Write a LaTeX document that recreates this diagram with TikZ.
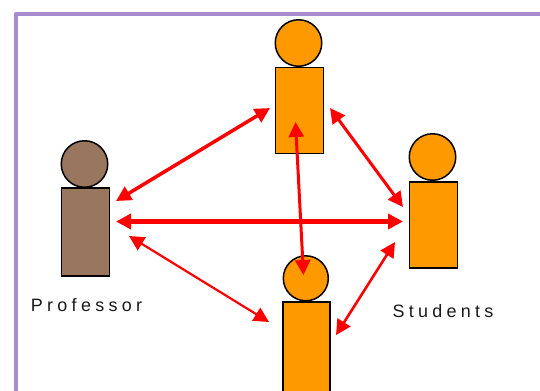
\documentclass[tikz,border=0pt]{standalone}
\usepackage{fontspec}
\setmainfont{Liberation Sans}[LetterSpace=24]
\usetikzlibrary{arrows.meta}
\definecolor{frameline}{HTML}{A98CCF}
\definecolor{studentfill}{HTML}{FF9900}
\definecolor{proffill}{HTML}{99775F}
\tikzset{
    body/.style={draw=black, line width=1.5bp, minimum width=48bp, inner sep=0pt},
    head/.style={draw=black, line width=1.5bp, circle, minimum size=46.5bp, inner sep=0pt},
    link/.style={red, {Triangle[length=15bp,width=15bp]}-{Triangle[length=15bp,width=15bp]}},
    caption/.style={font=\fontsize{18}{20}\selectfont, text=black!90}
}
\begin{document}
\begin{tikzpicture}[x=1bp, y=-1bp]
            \useasboundingbox (0,0) rectangle (540,390);

            % frame, open to the right and below
            \coordinate (f1) at (15.5,395);
            \coordinate (f2) at (15.5,14);
            \coordinate (f3) at (545,14);
            \draw[frameline, line width=4bp, line join=round] (f1) -- (f2) -- (f3);

            % professor and the three students
            \node[body, fill=proffill, minimum height=88bp] (profbody) at (85.5,232) {};
            \node[head, fill=proffill] (profhead) at (84.5,164) {};
            \node[body, fill=studentfill, minimum height=86bp] (topbody) at (299.3,110.5) {};
            \node[head, fill=studentfill] (tophead) at (298.5,43) {};
            \node[body, fill=studentfill, minimum height=86bp] (rightbody) at (433.5,225) {};
            \node[head, fill=studentfill] (righthead) at (432.5,157) {};
            \node[body, fill=studentfill, minimum width=47bp, minimum height=92bp] (lowbody) at (306.3,348) {};
            \node[head, fill=studentfill, minimum size=45bp] (lowhead) at (305.8,278.3) {};

            % labels
            \node[caption] (proflabel) at (86.5,305.5) {Professor};
            \node[caption] (studlabel) at (443,311.5) {Students};

            % free ends of the arrows
            \coordinate (p1) at (116,201);
            \coordinate (p2) at (116,221.5);
            \coordinate (p3) at (129,236);
            \coordinate (t1) at (270,108);
            \coordinate (t2) at (295.5,122);
            \coordinate (t3) at (330,108);
            \coordinate (r1) at (403,207);
            \coordinate (r2) at (403,221.5);
            \coordinate (r3) at (395,242);
            \coordinate (l1) at (269,322);
            \coordinate (l2) at (303.5,275);
            \coordinate (l3) at (336,335);

            % arrows
            \draw[link, line width=3.5bp] (p1) -- (t1);
            \draw[link, line width=5bp] (p2) -- (r2);
            \draw[link, line width=2.2bp] (p3) -- (l1);
            \draw[link, line width=3bp] (t2) -- (l2);
            \draw[link, line width=3bp] (t3) -- (r1);
            \draw[link, line width=2.6bp] (r3) -- (l3);
        \end{tikzpicture}
\end{document}
